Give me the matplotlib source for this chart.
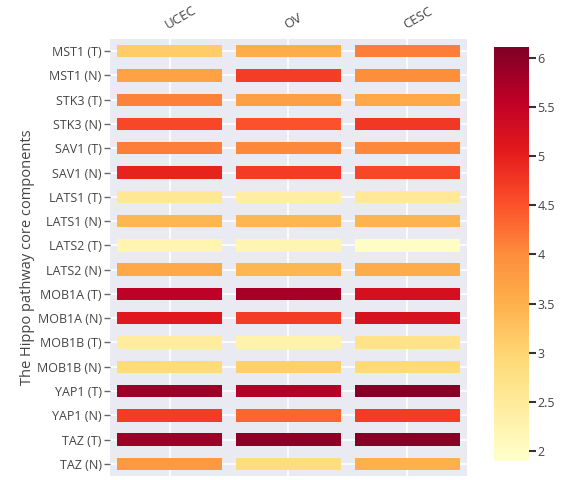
import numpy as np
import matplotlib.pyplot as plt
from matplotlib import cm, colors

plt.rcParams['font.family'] = ['Open Sans', 'DejaVu Sans']

cancers = ['UCEC', 'OV', 'CESC']
genes = ['MST1 (T)', 'MST1 (N)', 'STK3 (T)', 'STK3 (N)', 'SAV1 (T)', 'SAV1 (N)',
         'LATS1 (T)', 'LATS1 (N)', 'LATS2 (T)', 'LATS2 (N)', 'MOB1A (T)', 'MOB1A (N)',
         'MOB1B (T)', 'MOB1B (N)', 'YAP1 (T)', 'YAP1 (N)', 'TAZ (T)', 'TAZ (N)']

ucec = [3.12, 3.70, 4.10, 4.60, 4.13, 4.97, 2.57, 3.42, 2.24, 3.62,
        5.56, 5.10, 2.45, 2.90, 5.86, 4.72, 5.86, 3.84]
ov = [3.55, 4.70, 3.75, 4.50, 4.05, 4.72, 2.40, 3.42, 2.20, 3.42,
      5.77, 4.72, 2.28, 3.08, 5.65, 4.35, 5.98, 2.87]
cesc = [4.13, 4.00, 3.62, 4.75, 4.05, 4.60, 2.53, 3.45, 1.98, 3.58,
        5.27, 5.22, 2.70, 2.92, 6.07, 4.72, 6.05, 3.50]

vmin, vmax = 1.9, 6.11
cmap = plt.get_cmap('YlOrRd')
norm = colors.Normalize(vmin=vmin, vmax=vmax)

fig = plt.figure(figsize=(5.63, 4.80), dpi=100)
ax = fig.add_axes([0.1954, 0.0083, 0.634, 0.9104])
ax.set_facecolor('#EAEAF2')

rows = np.arange(len(genes))
for j, vals in enumerate([ucec, ov, cesc]):
    ax.barh(rows, 0.89, left=j - 0.445, height=0.51,
            color=cmap(norm(np.array(vals))), zorder=3)

ax.set_xlim(-0.5, 2.5)
ax.set_ylim(len(genes) - 0.5, -0.5)
ax.set_xticks(range(len(cancers)))
ax.set_yticks(rows)
ax.set_yticklabels(genes, fontsize=9, color='#444444')
ax.xaxis.tick_top()
ax.set_xticklabels(cancers, fontsize=9.5, color='#444444', rotation=30,
                   ha='left', va='bottom', rotation_mode='anchor')
ax.tick_params(axis='x', length=0, pad=5)
ax.tick_params(axis='y', length=4, width=1, color='#666666', pad=2)
ax.grid(True, color='white', linewidth=1.2, zorder=0)
ax.set_axisbelow(True)
for s in ax.spines.values():
    s.set_visible(False)
ax.set_ylabel('The Hippo pathway core components', fontsize=10.5, color='#444444',
              labelpad=2)

cax = fig.add_axes([0.8774, 0.0396, 0.0622, 0.8625])
cb = fig.colorbar(cm.ScalarMappable(norm=norm, cmap=cmap), cax=cax)
cb.outline.set_visible(False)
cb.set_ticks([2, 2.5, 3, 3.5, 4, 4.5, 5, 5.5, 6])
cb.set_ticklabels(['2', '2.5', '3', '3.5', '4', '4.5', '5', '5.5', '6'])
cax.tick_params(length=5, width=1.5, color='#333333', labelsize=9,
                labelcolor='#444444', pad=1)

fig.savefig('out.png', dpi=100)
